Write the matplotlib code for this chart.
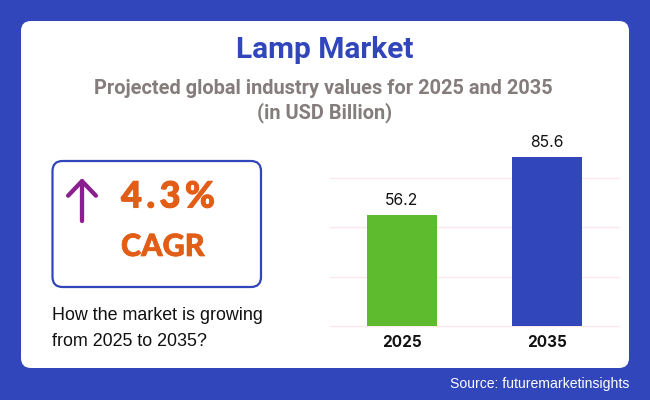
import matplotlib
matplotlib.use("Agg")
import matplotlib.pyplot as plt
import matplotlib.patheffects as pe
from matplotlib.patches import FancyBboxPatch

categories = ["2025", "2035"]
values = [56.2, 85.6]
bar_colors = ["#5FBB2E", "#3146BB"]
yticks = [0, 25, 50, 75]

W, H = 650, 400
BLUE = "#3146BB"
fig = plt.figure(figsize=(6.5, 4), dpi=100, facecolor=BLUE)

bg = fig.add_axes([0, 0, 1, 1])
bg.set_xlim(0, W); bg.set_ylim(H, 0); bg.axis("off")
bg.add_patch(FancyBboxPatch((21, 21), 608, 347, boxstyle="round,pad=0,rounding_size=10",
                            fc="white", ec="none"))
bg.add_patch(FancyBboxPatch((52.5, 161), 208.5, 126, boxstyle="round,pad=0,rounding_size=10",
                            fc="white", ec=BLUE, lw=1.6))
bg.annotate("", xy=(82, 178), xytext=(82, 221),
            arrowprops=dict(arrowstyle="->,head_length=1.05,head_width=1.0", color="#8B1F8F",
                            lw=3.1, capstyle="round", joinstyle="round", shrinkA=0, shrinkB=0))

bg.text(324.5, 50, "Lamp Market", ha="center", va="center", color=BLUE,
        family="Roboto", weight="bold", fontsize=21.5)
bg.text(323, 88.5, "Projected global industry values for 2025 and 2035", ha="center", va="center",
        color="#857C7C", family="Roboto", weight="bold", fontsize=14.4)
bg.text(324.5, 113, "(in USD Billion)", ha="center", va="center",
        color="#857C7C", family="Roboto", weight="bold", fontsize=14.4)
bg.text(121, 197, "4\u200a\u200a.\u200a\u200a3\u200a\u200a%", ha="left", va="center", color="#E25E17",
        family="Lato", weight="black", fontsize=26,
        path_effects=[pe.withStroke(linewidth=0.8, foreground="#E25E17")])
bg.text(121, 247, "CAGR", ha="left", va="center", color="#E25E17",
        family="Lato", weight="black", fontsize=22,
        path_effects=[pe.withStroke(linewidth=0.5, foreground="#E25E17")])
bg.text(52, 316, "How the market is growing", ha="left", va="center", color="#111111",
        family="Liberation Sans", fontsize=12.9)
bg.text(52, 341, "from 2025 to 2035?", ha="left", va="center", color="#111111",
        family="Liberation Sans", fontsize=12.9)
bg.text(629, 384, "Source: futuremarketinsights", ha="right", va="center", color="white",
        family="Liberation Sans", fontsize=10.05)

SCALE = 1.98
ax = fig.add_axes([329.5 / W, 1 - 326.3 / H, 289.5 / W, 186 / H])
ax.patch.set_alpha(0)
ax.set_xlim(-0.5, 1.5)
ax.set_ylim(0, 186 / SCALE)
for s in ax.spines.values():
    s.set_visible(False)
ax.set_yticks(yticks)
ax.tick_params(axis="y", left=False, labelleft=False)
ax.tick_params(axis="x", bottom=False, pad=3)
ax.grid(axis="y", color="#FBE9EC", lw=1, clip_on=False)
ax.set_axisbelow(True)
ax.set_xticks(range(len(categories)))
ax.set_xticklabels(categories, family="Inter", weight="bold", fontsize=11, color="#111111")
bars = ax.bar(range(len(categories)), values, width=0.483, color=bar_colors, zorder=2)
for b, v in zip(bars, values):
    ax.annotate(f"{v}", (b.get_x() + b.get_width() / 2, v), xytext=(0, 7),
                textcoords="offset pixels", ha="center", va="bottom",
                family="Inter", fontsize=11.3, color="#111111")

fig.savefig("out.png", dpi=100, facecolor=BLUE)
